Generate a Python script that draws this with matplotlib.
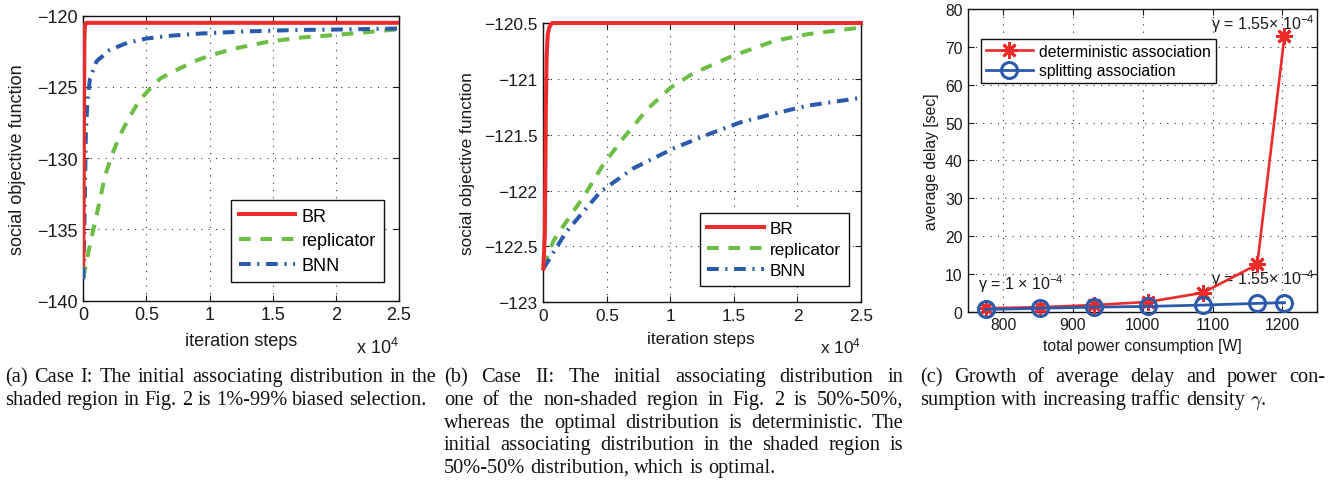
import matplotlib
matplotlib.use('Agg')
import matplotlib.pyplot as plt
from matplotlib.ticker import FuncFormatter, MultipleLocator

plt.rcParams['font.family'] = ['Liberation Sans', 'DejaVu Sans']
plt.rcParams['mathtext.fontset'] = 'custom'
plt.rcParams['mathtext.rm'] = 'Liberation Sans'
plt.rcParams['mathtext.it'] = 'Liberation Sans:italic'
plt.rcParams['mathtext.bf'] = 'Liberation Sans:bold'
plt.rcParams['lines.scale_dashes'] = False
plt.rcParams['axes.unicode_minus'] = True

W, H = 1328, 481

# ---------------- data ----------------
# Panel (a)
a_br_x = [0, 30, 60, 90, 120, 160, 250, 25000]
a_br_y = [-137.5, -133.0, -126.0, -121.6, -120.8, -120.6, -120.5, -120.5]
a_rep_x = [0, 400, 800, 1300, 1700, 2250, 2900, 3600, 4400, 5200, 6100, 7400,
           8800, 10000, 12000, 14500, 17000, 20000, 22500, 25000]
a_rep_y = [-138.4, -136.6, -135.0, -133.0, -131.3, -129.8, -128.4, -127.2, -126.0,
           -125.2, -124.4, -123.8, -123.2, -122.8, -122.3, -121.85, -121.55,
           -121.35, -121.15, -120.95]
a_bnn_x = [0, 100, 200, 320, 530, 1050, 2100, 3500, 5000, 7000, 9300, 13000,
           17000, 20000, 25000]
a_bnn_y = [-138.5, -134.0, -128.3, -126.1, -124.4, -123.2, -122.4, -121.9, -121.6,
           -121.4, -121.25, -121.1, -121.0, -120.97, -120.9]

# Panel (b)
b_br_x = [0, 120, 160, 200, 260, 350, 500, 700, 25000]
b_br_y = [-122.7, -122.4, -121.9, -121.3, -120.8, -120.6, -120.53, -120.5, -120.5]
b_rep_x = [0, 800, 1800, 3200, 4700, 6300, 8200, 10000, 11800, 15000, 18200,
           20800, 25000]
b_rep_y = [-122.68, -122.45, -122.28, -122.05, -121.77, -121.53, -121.27, -121.08,
           -120.95, -120.79, -120.66, -120.6, -120.54]
b_bnn_x = [0, 1800, 4500, 7100, 10300, 12900, 15500, 18200, 20800, 25000]
b_bnn_y = [-122.7, -122.37, -122.01, -121.8, -121.62, -121.5, -121.39, -121.31,
           -121.24, -121.17]

# Panel (c)
c_power = [775, 853, 930, 1008, 1086, 1164, 1203]
c_det = [0.9, 1.2, 1.75, 2.6, 5.0, 12.5, 72.9]
c_split = [0.6, 0.9, 1.2, 1.4, 1.75, 2.2, 2.4]

legend_ab = ['BR', 'replicator', 'BNN']
legend_c = ['deterministic association', 'splitting association']

captions = {
    'a': ["(a) Case I: The initial associating distribution in the",
          "shaded region in Fig. 2 is 1%-99% biased selection."],
    'b': ["(b) Case II: The initial associating distribution in",
          "one of the non-shaded region in Fig. 2 is 50%-50%,",
          "whereas the optimal distribution is deterministic. The",
          "initial associating distribution in the shaded region is",
          "50%-50% distribution, which is optimal."],
    'c': ["(c) Growth of average delay and power con-",
          "sumption with increasing traffic density $\\gamma$."],
}

RED = '#ED2B2B'
GREEN = '#6DBE45'
BLUE = '#2A5AAB'
TXT = '#1a1a1a'

fig = plt.figure(figsize=(W / 100, H / 100), dpi=100)


def px_axes(l, r, t, b):
    return fig.add_axes([l / W, 1 - b / H, (r - l) / W, (b - t) / H])


def style(ax, fs):
    ax.grid(True, color='#333333', linestyle=(0, (0.8, 4.5)), linewidth=0.8)
    ax.tick_params(direction='in', length=4, width=0.8, top=True, right=True,
                   labelsize=fs, colors=TXT, pad=4)
    for s in ax.spines.values():
        s.set_linewidth(1.0)
        s.set_color('#111111')
    ax.set_axisbelow(True)


fmt4 = FuncFormatter(lambda v, p: ('%g' % (v / 1e4)))
lw = 2.9
dash_rep = (0, (8.4, 7.0))
dash_bnn = (0, (8.4, 4.8, 1.5, 4.8))

# ---------------- panel (a) ----------------
axa = px_axes(83.3, 399, 16.7, 301.7)
fs_a = 13
axa.plot(a_br_x, a_br_y, color=RED, lw=lw, solid_joinstyle='round', label=legend_ab[0], zorder=5)
axa.plot(a_rep_x, a_rep_y, color=GREEN, lw=lw, linestyle=dash_rep, label=legend_ab[1], zorder=3)
axa.plot(a_bnn_x, a_bnn_y, color=BLUE, lw=lw, linestyle=dash_bnn, label=legend_ab[2], zorder=4)
axa.set_xlim(0, 25000)
axa.set_ylim(-140, -120)
axa.xaxis.set_major_locator(MultipleLocator(5000))
axa.xaxis.set_major_formatter(fmt4)
axa.yaxis.set_major_locator(MultipleLocator(5))
style(axa, fs_a)
axa.set_xlabel('iteration steps', fontsize=fs_a, color=TXT, va='center')
axa.xaxis.set_label_coords(0.5, -0.138)
axa.set_ylabel('social objective function', fontsize=fs_a, color=TXT, va='center')
axa.yaxis.set_label_coords(-0.207, 0.5)
leg = axa.legend(loc='lower right', bbox_to_anchor=(384 / W, 1 - 283 / H),
                 bbox_transform=fig.transFigure, fontsize=fs_a, fancybox=False,
                 edgecolor='#111111', framealpha=1, handlelength=3.1,
                 handletextpad=0.35, labelspacing=0.42, borderpad=0.45,
                 borderaxespad=0)
leg.get_frame().set_linewidth(1.0)
fig.text(399 / W, 1 - 354 / H, 'x 10$^{4}$', ha='right', va='baseline', fontsize=fs_a, color=TXT)

# ---------------- panel (b) ----------------
axb = px_axes(543.3, 861, 24, 303.3)
fs_b = 12.4
axb.plot(b_br_x, b_br_y, color=RED, lw=lw, solid_joinstyle='round', label=legend_ab[0], zorder=5, clip_on=False)
axb.plot(b_rep_x, b_rep_y, color=GREEN, lw=lw, linestyle=dash_rep, label=legend_ab[1], zorder=3)
axb.plot(b_bnn_x, b_bnn_y, color=BLUE, lw=lw, linestyle=dash_bnn, label=legend_ab[2], zorder=4)
axb.set_xlim(0, 25000)
axb.set_ylim(-123, -120.5)
axb.xaxis.set_major_locator(MultipleLocator(5000))
axb.xaxis.set_major_formatter(fmt4)
axb.yaxis.set_major_locator(MultipleLocator(0.5))
axb.yaxis.set_major_formatter(FuncFormatter(lambda v, p: ('%g' % v).replace('-', '\u2212')))
style(axb, fs_b)
axb.set_xlabel('iteration steps', fontsize=fs_b, color=TXT, va='center')
axb.xaxis.set_label_coords(0.496, -0.131)
axb.set_ylabel('social objective function', fontsize=fs_b, color=TXT, va='center')
axb.yaxis.set_label_coords(-0.239, 0.5)
leg = axb.legend(loc='lower right', bbox_to_anchor=(849 / W, 1 - 287 / H),
                 bbox_transform=fig.transFigure, fontsize=fs_b, fancybox=False,
                 edgecolor='#111111', framealpha=1, handlelength=3.3,
                 handletextpad=0.35, labelspacing=0.35, borderpad=0.45,
                 borderaxespad=0)
leg.get_frame().set_linewidth(1.0)
fig.text(861 / W, 1 - 353 / H, 'x 10$^{4}$', ha='right', va='baseline', fontsize=fs_b, color=TXT)

# ---------------- panel (c) ----------------
axc = px_axes(968.3, 1317.3, 10, 312.7)
fs_c = 11.3
axc.plot(c_power, c_det, color=RED, lw=1.9, marker=(8, 2, 0), markersize=12,
         markeredgewidth=2.0, label=legend_c[0], zorder=4, clip_on=False)
axc.plot(c_power, c_split, color=BLUE, lw=2.0, marker='o', markersize=11.5,
         markerfacecolor='none', markeredgewidth=2.2, markeredgecolor=BLUE,
         label=legend_c[1], zorder=5, clip_on=False)
axc.set_xlim(750, 1250)
axc.set_ylim(0, 80)
axc.xaxis.set_major_locator(MultipleLocator(100))
axc.yaxis.set_major_locator(MultipleLocator(10))
style(axc, fs_c)
axc.set_xlabel('total power consumption [W]', fontsize=fs_c, color=TXT, va='center')
axc.xaxis.set_label_coords(0.5, -0.112)
axc.set_ylabel('average delay [sec]', fontsize=fs_c, color=TXT, va='center')
axc.yaxis.set_label_coords(-0.105, 0.5)
leg = axc.legend(loc='upper left', bbox_to_anchor=(981 / W, 1 - 40 / H),
                 bbox_transform=fig.transFigure, fontsize=fs_c, fancybox=False,
                 edgecolor='#111111', framealpha=1, handlelength=3.0,
                 handletextpad=0.4, labelspacing=0.3, borderpad=0.3,
                 borderaxespad=0)
leg.get_frame().set_linewidth(1.0)
ann_fs = 11.5
axc.text(1097, 74.7, '\u03b3 = 1.55\u00d7 10$^{\u22124}$', fontsize=ann_fs, color=TXT, va='baseline')
axc.text(1097, 7.3, '\u03b3 = 1.55\u00d7 10$^{\u22124}$', fontsize=ann_fs, color=TXT, va='baseline')
axc.text(764, 6.0, '\u03b3 = 1 \u00d7 10$^{\u22124}$', fontsize=ann_fs, color=TXT, va='baseline')

# ---------------- captions (justified) ----------------
renderer = fig.canvas.get_renderer()
serif = ['Liberation Serif', 'DejaVu Serif']
baselines = [382, 405, 428, 450.5, 473]
columns = {'a': (5, 437), 'b': (444, 903), 'c': (920, 1325)}

# pick the font size so the longest justified line fits its column
ref_fs = 10.0
ratios = []
for key, lines in captions.items():
    x0, x1 = columns[key]
    for i, line in enumerate(lines[:-1]):
        t = fig.text(0, 0, line, fontsize=ref_fs, family=serif, math_fontfamily='cm')
        wpx = t.get_window_extent(renderer).width
        t.remove()
        ratios.append((x1 - x0) / wpx)
cap_fs = ref_fs * min(ratios) * 0.975

cap_kw = dict(fontsize=cap_fs, family=serif, color='#111111',
              va='baseline', ha='left', math_fontfamily='cm')


def put_line(line, x0, x1, yb, justify):
    words = line.split(' ')
    texts = [fig.text(0, 1 - yb / H, w_, **cap_kw) for w_ in words]
    widths = [t.get_window_extent(renderer).width for t in texts]
    space = cap_fs * 100 / 72 * 0.25
    if justify and len(words) > 1:
        space = (x1 - x0 - sum(widths)) / (len(words) - 1)
    x = x0
    for t, wd in zip(texts, widths):
        t.set_x(x / W)
        x += wd + space


for key, lines in captions.items():
    x0, x1 = columns[key]
    for i, line in enumerate(lines):
        put_line(line, x0, x1, baselines[i], justify=(i < len(lines) - 1))

fig.savefig('out.png', dpi=100)
